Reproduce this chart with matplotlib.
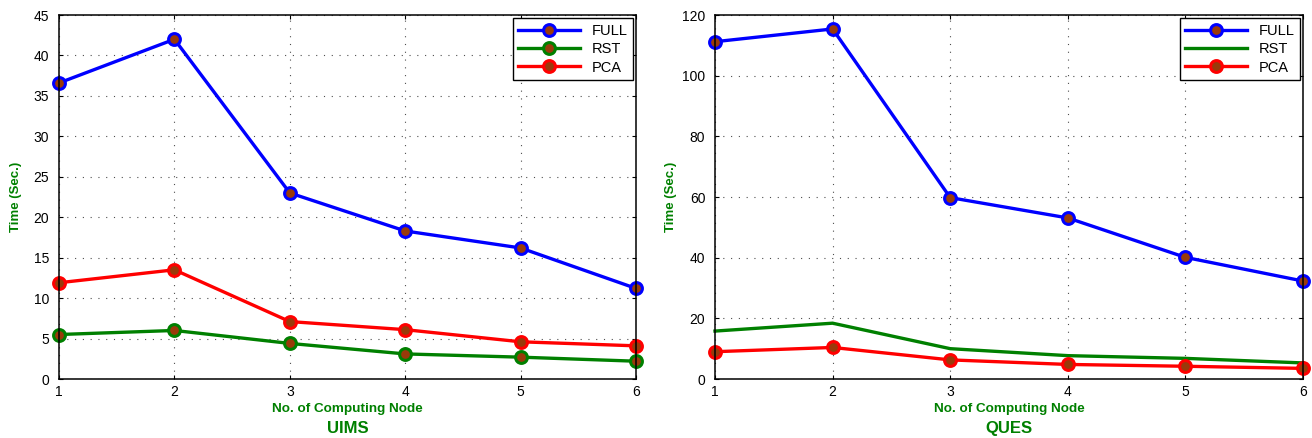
# 计算节点数与运行时间对比图（UIMS / QUES 两个数据集）
import numpy as np
import matplotlib.pyplot as plt

plt.rcParams['font.family'] = ['Liberation Sans', 'DejaVu Sans']

nodes = [1, 2, 3, 4, 5, 6]

# UIMS 数据集
uims_full = [36.6, 42.0, 23.0, 18.3, 16.2, 11.2]
uims_rst = [5.5, 6.0, 4.4, 3.1, 2.7, 2.2]
uims_pca = [11.9, 13.5, 7.1, 6.1, 4.6, 4.1]

# QUES 数据集
ques_full = [111.2, 115.4, 59.8, 53.1, 40.1, 32.3]
ques_rst = [15.8, 18.4, 10.0, 7.7, 6.8, 5.3]
ques_pca = [9.0, 10.4, 6.3, 4.8, 4.2, 3.5]

green = '#008000'
face = '#9a3a0a'


def draw(ax, full, rst, pca, ymax, yticks, name, rst_marker):
    kw = dict(lw=2.4, ms=8.5, mew=2.2, mfc=face, clip_on=False)
    ax.plot(nodes, full, color='#0000ff', marker='o', mec='#0000ff', label='FULL', **kw)
    if rst_marker:
        ax.plot(nodes, rst, color=green, marker='o', mec=green, label='RST', **kw)
    else:
        ax.plot(nodes, rst, color=green, lw=2.4, label='RST', clip_on=False)
    ax.plot(nodes, pca, color='#ff0000', marker='o', mec='#ff0000', label='PCA', **kw)

    ax.set_xlim(1, 6)
    ax.set_ylim(0, ymax)
    ax.set_xticks(nodes)
    ax.set_yticks(yticks)
    ax.grid(True, color='0.3', ls=(0, (1, 6)), lw=0.8)
    ax.tick_params(direction='in', length=3, width=0.8, top=True, right=True,
                   labelsize=10)
    ax.tick_params(axis='y', pad=7)
    ax.tick_params(axis='x', pad=4)
    for s in ax.spines.values():
        s.set_linewidth(1.1)

    ax.text(0.5, -0.082, 'No. of Computing Node', transform=ax.transAxes,
            ha='center', va='center', color=green, fontsize=9.7, fontweight='bold')
    ax.text(0.5, -0.137, name, transform=ax.transAxes,
            ha='center', va='center', color=green, fontsize=12, fontweight='bold')
    ax.text(-0.074, 0.5, 'Time (Sec.)', transform=ax.transAxes, rotation=90,
            ha='center', va='center', color=green, fontsize=9.5, fontweight='bold')

    leg = ax.legend(loc='upper right', fontsize=10.5, handlelength=4.2,
                    labelspacing=0.3, borderaxespad=0.2, fancybox=False,
                    framealpha=1, edgecolor='black')
    leg.get_frame().set_linewidth(1.0)


fig = plt.figure(figsize=(13.12, 4.38), dpi=100)
ax1 = fig.add_axes([0.04497, 0.1347, 0.43979, 0.83105])
ax2 = fig.add_axes([0.54497, 0.1347, 0.44817, 0.83105])

draw(ax1, uims_full, uims_rst, uims_pca, 45, np.arange(0, 46, 5), 'UIMS', True)
draw(ax2, ques_full, ques_rst, ques_pca, 120, np.arange(0, 121, 20), 'QUES', False)

fig.savefig('out.png', dpi=100)
